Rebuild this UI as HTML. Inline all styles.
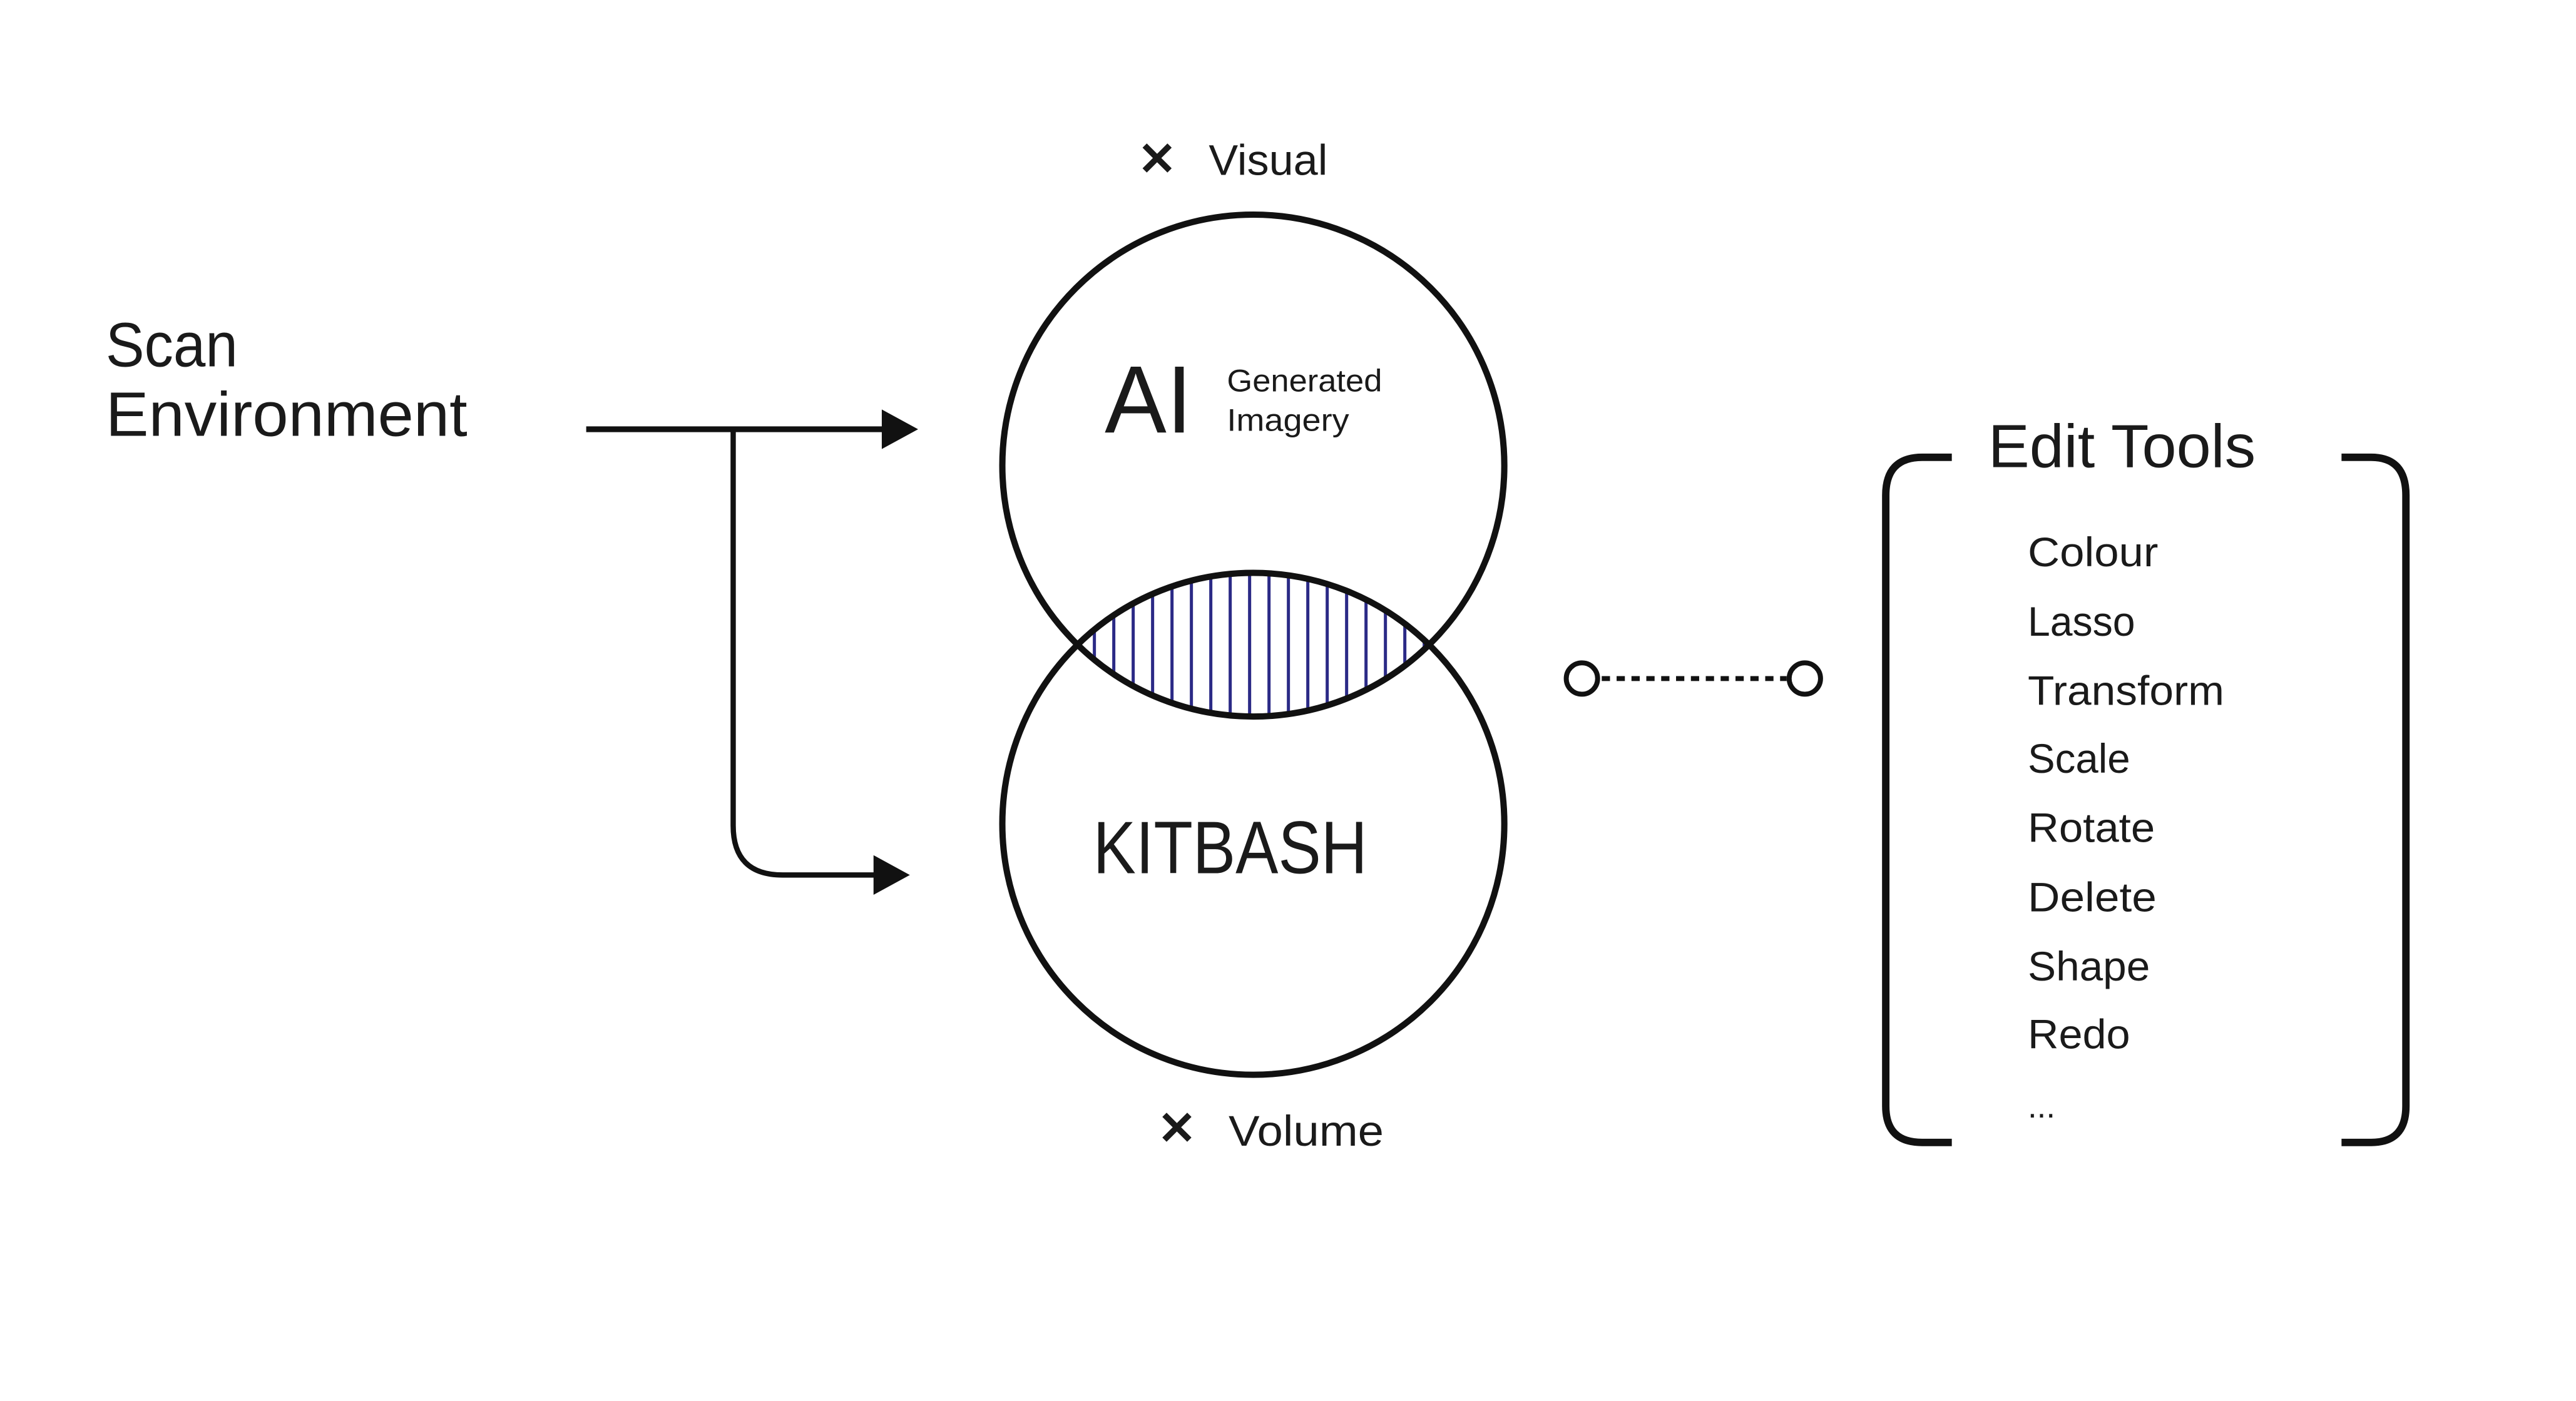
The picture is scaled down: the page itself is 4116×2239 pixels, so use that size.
<!DOCTYPE html>
<html><head><meta charset="utf-8"><style>
html,body{margin:0;padding:0;background:#fff;}
svg{display:block;}
text{font-family:"Liberation Sans",sans-serif;fill:#1a1a1a;}
</style></head><body>
<svg width="4116" height="2239" viewBox="0 0 1560 848.6" preserveAspectRatio="none" xmlns="http://www.w3.org/2000/svg">
<defs>
<clipPath id="top"><circle cx="759" cy="282" r="152"/></clipPath>
<pattern id="hatch" x="3.8" y="0" width="11.75" height="20" patternUnits="userSpaceOnUse">
<rect x="0" y="0" width="1.9" height="20" fill="#2b2a86"/>
</pattern>
</defs>
<g clip-path="url(#top)"><circle cx="759" cy="499" r="152" fill="url(#hatch)"/></g>
<circle cx="759" cy="282" r="152" fill="none" stroke="#111" stroke-width="3.8"/>
<circle cx="759" cy="499" r="152" fill="none" stroke="#111" stroke-width="3.8"/>

<text x="64" y="222" font-size="38" textLength="80" lengthAdjust="spacingAndGlyphs">Scan</text>
<text x="64" y="264" font-size="38" textLength="219" lengthAdjust="spacingAndGlyphs">Environment</text>

<path d="M355 260 H538" stroke="#111" stroke-width="3.5" fill="none"/>
<polygon points="534,248 556,260 534,272" fill="#111"/>
<path d="M444 260 V500 Q444 530 474 530 H532" stroke="#111" stroke-width="3.2" fill="none"/>
<polygon points="529,518 551,530 529,542" fill="#111"/>

<text x="689" y="106" font-size="28" font-weight="bold">✕</text>
<text x="732" y="106" font-size="26" textLength="72" lengthAdjust="spacingAndGlyphs">Visual</text>
<text x="701" y="693" font-size="28" font-weight="bold">✕</text>
<text x="744" y="694" font-size="26" textLength="94" lengthAdjust="spacingAndGlyphs">Volume</text>

<text x="669" y="262" font-size="58" textLength="53" lengthAdjust="spacingAndGlyphs">AI</text>
<text x="743" y="237" font-size="19" textLength="94" lengthAdjust="spacingAndGlyphs">Generated</text>
<text x="743" y="261" font-size="19" textLength="74" lengthAdjust="spacingAndGlyphs">Imagery</text>
<text x="662" y="529" font-size="45" textLength="166" lengthAdjust="spacingAndGlyphs">KITBASH</text>

<circle cx="958" cy="411" r="9.5" fill="#fff" stroke="#111" stroke-width="3"/>
<line x1="970" y1="411" x2="1082" y2="411" stroke="#111" stroke-width="3" stroke-dasharray="5,4"/>
<circle cx="1093" cy="411" r="9.5" fill="#fff" stroke="#111" stroke-width="3"/>

<path d="M1182 277 H1164 Q1142 277 1142 300 V670 Q1142 692 1164 692 H1182" fill="none" stroke="#111" stroke-width="4.5"/>
<path d="M1418 277 H1436 Q1457 277 1457 300 V670 Q1457 692 1436 692 H1418" fill="none" stroke="#111" stroke-width="4.5"/>

<text x="1204" y="283" font-size="37" textLength="162" lengthAdjust="spacingAndGlyphs">Edit Tools</text>
<g font-size="25">
<text x="1228" y="343" textLength="79" lengthAdjust="spacingAndGlyphs">Colour</text>
<text x="1228" y="385" textLength="65" lengthAdjust="spacingAndGlyphs">Lasso</text>
<text x="1228" y="427" textLength="119" lengthAdjust="spacingAndGlyphs">Transform</text>
<text x="1228" y="468" textLength="62" lengthAdjust="spacingAndGlyphs">Scale</text>
<text x="1228" y="510" textLength="77" lengthAdjust="spacingAndGlyphs">Rotate</text>
<text x="1228" y="552" textLength="78" lengthAdjust="spacingAndGlyphs">Delete</text>
<text x="1228" y="594" textLength="74" lengthAdjust="spacingAndGlyphs">Shape</text>
<text x="1228" y="635" textLength="62" lengthAdjust="spacingAndGlyphs">Redo</text>
<text x="1228" y="677" font-size="20">...</text>
</g>
</svg>
</body></html>
